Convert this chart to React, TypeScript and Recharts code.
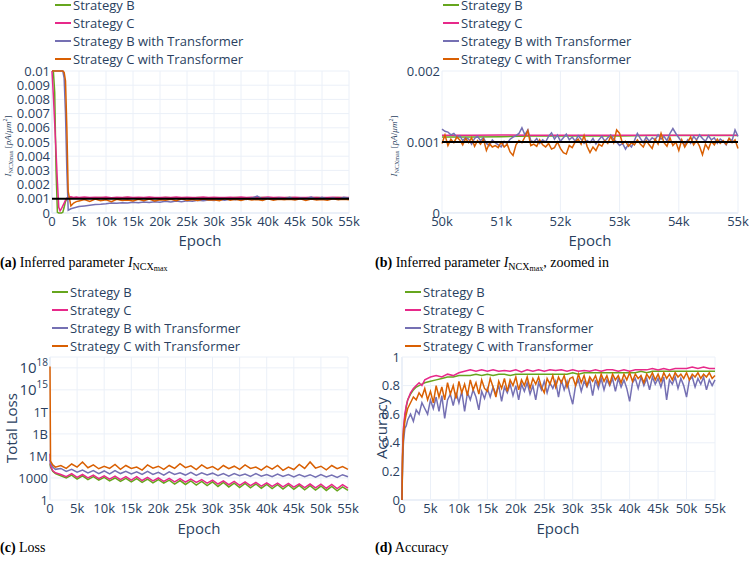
import React from 'react'
import { LineChart, Line, XAxis, YAxis, CartesianGrid, ReferenceLine } from 'recharts'

const SERIES = ['Strategy B', 'Strategy C', 'Strategy B with Transformer', 'Strategy C with Transformer']
const KEYS = ['b', 'c', 'bt', 'ct']
const COLORS = ['#66a61e', '#e7298a', '#7570b3', '#d95f02'] // Dark2

const FONT = '"Open Sans", "Liberation Sans", Arial, sans-serif'
const SERIF = '"Liberation Serif", "DejaVu Serif", serif'
const INK = '#2a3f5f'
const GRID = '#ebf0f8'

// epochs are in thousands (k)
const X_TICKS = [0, 5, 10, 15, 20, 25, 30, 35, 40, 45, 50, 55]
const X_TICKS_ZOOM = [50, 51, 52, 53, 54, 55]
const TRUE_INCX = 0.001

// (a) inferred I_NCXmax, values in 1e-3 pA/um^2
const EPOCH_A = [
  0, 0.25, 0.5, 0.75, 1, 1.25, 1.5, 1.75, 2, 2.25, 2.5, 2.75, 3, 3.5, 4, 4.5, 5,
  6, 7, 8, 9, 10, 11, 12, 13, 14, 15, 16, 17, 18, 19, 20, 21, 22, 23, 24, 25,
  26, 27, 28, 29, 30, 31, 32, 33, 34, 35, 36, 37, 38, 39, 40, 41, 42, 43, 44, 45,
  46, 47, 48, 49, 50, 51, 52, 53, 54, 55,
]
const INCX_B = [
  10, 10, 8.5, 3.0, 0.05, 0, 0, 0, 0.05, 0.4, 0.8, 1.0, 1.06, 1.08, 1.05, 1.07, 1.06,
  1.08, 1.05, 1.07, 1.09, 1.06, 1.08, 1.05, 1.07, 1.09, 1.06,
  1.08, 1.07, 1.05, 1.08, 1.06, 1.09, 1.07, 1.05, 1.08, 1.07,
  1.06, 1.09, 1.07, 1.08, 1.05, 1.07, 1.08, 1.06, 1.09, 1.07,
  1.08, 1.06, 1.07, 1.09, 1.08, 1.06, 1.08, 1.07, 1.09, 1.08,
  1.07, 1.08, 1.06, 1.09, 1.08, 1.07, 1.08, 1.09, 1.08, 1.08,
]
const INCX_C = [
  10, 8.3, 6.3, 4.3, 2.2, 0.4, 0.15, 0.3, 0.5, 0.7, 0.9, 1.05, 1.12, 1.15, 1.1, 1.12, 1.1,
  1.12, 1.09, 1.11, 1.1, 1.13, 1.08, 1.11, 1.1, 1.12, 1.09,
  1.11, 1.1, 1.12, 1.09, 1.1, 1.11, 1.09, 1.12, 1.1, 1.11,
  1.09, 1.1, 1.12, 1.1, 1.11, 1.09, 1.1, 1.11, 1.1, 1.12,
  1.09, 1.11, 1.1, 1.1, 1.12, 1.09, 1.11, 1.1, 1.1, 1.11,
  1.09, 1.1, 1.11, 1.1, 1.09, 1.1, 1.11, 1.1, 1.09, 1.1,
]
const INCX_BT = [
  10, 10, 10, 10, 10, 10, 10, 10, 10, 9.5, 7.0, 3.0, 0.2, 0.3, 0.35, 0.4, 0.45,
  0.5, 0.55, 0.6, 0.62, 0.65, 0.7, 0.68, 0.72, 0.7, 0.75,
  0.72, 0.78, 0.74, 0.8, 0.76, 0.82, 0.78, 0.85, 0.8, 0.86,
  0.83, 0.9, 0.86, 0.92, 0.88, 0.95, 0.9, 0.98, 0.93, 1.0,
  0.95, 1.05, 1.2, 0.98, 1.08, 0.96, 1.05, 0.98, 1.1, 0.95,
  1.05, 1.0, 1.12, 0.96, 1.1, 0.98, 1.08, 0.95, 1.1, 1.05,
]
const INCX_CT = [
  10, 10, 10, 10, 10, 10, 10, 10, 10, 9.9, 9.3, 6.0, 1.5, 0.5, 0.7, 0.8, 0.85,
  0.95, 0.82, 0.98, 0.86, 0.93, 0.8, 0.97, 0.88, 0.92, 0.84,
  0.96, 0.87, 0.99, 0.85, 0.94, 0.9, 0.97, 0.86, 1.0, 0.89,
  0.95, 0.88, 0.98, 0.91, 0.94, 0.87, 1.02, 0.9, 0.96, 0.88,
  0.99, 0.92, 0.95, 0.89, 1.01, 0.9, 0.97, 0.93, 0.96, 0.91,
  1.0, 0.89, 0.98, 0.92, 0.95, 0.9, 1.01, 0.93, 0.97, 0.94,
]
const INCX_Y_TICKS = [0, 0.001, 0.002, 0.003, 0.004, 0.005, 0.006, 0.007, 0.008, 0.009, 0.01]

// (b) zoomed in, values in 1e-3 pA/um^2
const EPOCH_B_COARSE = [50, 50.5, 51, 51.5, 52, 52.5, 53, 53.5, 54, 54.5, 55]
const ZOOM_B = [1.07, 1.07, 1.075, 1.085, 1.085, 1.085, 1.085, 1.09, 1.09, 1.09, 1.09]
const ZOOM_C = [1.095, 1.095, 1.1, 1.095, 1.095, 1.095, 1.095, 1.095, 1.095, 1.095, 1.095]
const EPOCH_B = [
  50, 50.05, 50.1, 50.15, 50.2, 50.25, 50.3, 50.35, 50.4, 50.45,
  50.5, 50.55, 50.6, 50.65, 50.7, 50.75, 50.8, 50.85, 50.9, 50.95,
  51, 51.05, 51.1, 51.15, 51.2, 51.25, 51.3, 51.35, 51.4, 51.45,
  51.5, 51.55, 51.6, 51.65, 51.7, 51.75, 51.8, 51.85, 51.9, 51.95,
  52, 52.05, 52.1, 52.15, 52.2, 52.25, 52.3, 52.35, 52.4, 52.45,
  52.5, 52.55, 52.6, 52.65, 52.7, 52.75, 52.8, 52.85, 52.9, 52.95,
  53, 53.05, 53.1, 53.15, 53.2, 53.25, 53.3, 53.35, 53.4, 53.45,
  53.5, 53.55, 53.6, 53.65, 53.7, 53.75, 53.8, 53.85, 53.9, 53.95,
  54, 54.05, 54.1, 54.15, 54.2, 54.25, 54.3, 54.35, 54.4, 54.45,
  54.5, 54.55, 54.6, 54.65, 54.7, 54.75, 54.8, 54.85, 54.9, 54.95,
  55,
]
const ZOOM_BT = [
  1.18, 1.15, 1.14, 1.1, 1.12, 1.07, 1.09, 1.02, 1.06, 1.04,
  0.97, 1.05, 1.08, 1.02, 1.06, 0.98, 0.95, 1.03, 0.99, 0.96,
  0.93, 1.01, 0.98, 1.04, 1.07, 1.09, 1.12, 1.2, 1.1, 1.17,
  1.02, 1.0, 1.05, 0.98, 1.03, 1.0, 1.08, 1.13, 1.04, 1.1,
  1.01, 1.06, 1.11, 1.03, 1.07, 1.01, 1.09, 1.04, 0.98, 1.02,
  0.99, 1.05, 0.97, 1.03, 1.08, 1.01, 1.06, 1.1, 1.04, 1.0,
  0.95, 0.98, 0.9, 0.97, 0.93, 1.02, 1.12, 1.05, 0.99, 1.07,
  1.01, 1.06, 1.03, 1.1, 1.04, 1.08, 1.02, 1.12, 1.19, 1.12,
  1.06, 1.0, 0.96, 1.03, 0.98, 1.08, 1.03, 1.1, 1.05, 1.01,
  1.09, 1.03, 1.06, 0.98, 1.04, 1.01, 0.96, 1.05, 1.02, 1.17,
  1.08,
]
const ZOOM_CT = [
  0.98, 1.1, 0.95, 1.04, 0.99, 1.07, 1.03, 0.96, 1.05, 0.99,
  1.06, 0.94, 1.02, 0.97, 1.04, 0.88, 0.98, 0.93, 0.95, 0.92,
  1.0, 0.93, 0.97, 0.86, 0.81, 0.96, 1.02, 0.99, 1.07, 1.16,
  0.95, 0.97, 0.94, 1.03, 0.96, 0.93, 0.98, 0.9, 0.92, 1.0,
  0.91, 0.85, 0.83, 0.95, 0.92, 1.0, 1.04, 0.97, 1.09, 0.94,
  0.85, 0.93, 0.88, 0.97, 0.94, 1.02, 0.98, 1.08, 0.99, 1.17,
  1.12, 0.98, 1.01, 0.94, 0.99, 0.96, 1.03, 0.97, 0.93, 1.02,
  0.96, 0.91, 1.04, 0.97, 1.12, 0.99, 0.94, 1.06, 0.95, 1.0,
  0.88, 1.03, 0.93, 1.0, 1.07, 0.96, 1.02, 0.94, 0.82, 0.97,
  0.9, 1.01, 0.96, 1.04, 0.98, 1.02, 0.97, 1.05, 0.99, 1.03,
  0.91,
]
const ZOOM_Y_TICKS = [0, 0.001, 0.002]

// (c) total loss
const EPOCH_C = [
  0, 0.1, 0.5, 1, 2, 3, 4, 5, 6, 7, 8, 9, 10, 11, 12, 13, 14, 15, 16, 17, 18, 19, 20,
  21, 22, 23, 24, 25, 26, 27, 28, 29, 30, 31, 32, 33, 34, 35, 36, 37, 38, 39, 40,
  41, 42, 43, 44, 45, 46, 47, 48, 49, 50, 51, 52, 53, 54, 55,
]
const LOSS_B = [
  1e5, 3e4, 8e3, 4e3,
  2e3, 1e3, 2.5e3, 700, 2e3, 600, 1.5e3, 500, 1.2e3, 400,
  1e3, 350, 900, 300, 800, 250, 700, 220, 600, 200,
  500, 150, 450, 130, 400, 110, 350, 90, 300, 70,
  250, 60, 200, 50, 180, 45, 150, 40, 130, 35,
  120, 30, 110, 28, 100, 25, 90, 22, 80, 20,
  70, 18, 60, 20,
]
const LOSS_C = [
  2e6, 5e4, 1e4, 5e3,
  3e3, 1.5e3, 4e3, 1.2e3, 3e3, 1e3, 2.5e3, 800, 2e3, 700,
  1.8e3, 600, 1.5e3, 500, 1.5e3, 450, 1.2e3, 400, 1e3, 350,
  900, 300, 800, 280, 700, 250, 600, 200, 500, 150,
  400, 120, 350, 100, 300, 90, 250, 80, 220, 70,
  200, 60, 180, 55, 160, 50, 150, 45, 140, 40,
  130, 35, 120, 40,
]
const LOSS_BT = [
  3e5, 1e5, 3e4, 1.5e4,
  2e4, 8e3, 1.5e4, 6e3, 1.2e4, 5e3, 1e4, 4e3, 9e3, 3.5e3,
  1e4, 4e3, 8e3, 3.5e3, 7e3, 3e3, 8e3, 3e3, 6e3, 2.5e3,
  7e3, 3e3, 5e3, 2.5e3, 6e3, 2.2e3, 5e3, 2.5e3, 4.5e3, 2e3,
  4e3, 1.8e3, 4e3, 2e3, 3.5e3, 1.6e3, 4e3, 1.8e3, 3e3, 1.5e3,
  3.5e3, 1.6e3, 3e3, 1.4e3, 3e3, 1.5e3, 2.8e3, 1.3e3, 3e3, 1.4e3,
  2.5e3, 1.2e3, 2.8e3, 1.5e3,
]
const LOSS_CT = [
  1.5e18, 2e5, 6e4, 3e4,
  5e4, 2e4, 8e4, 3e4, 1.5e5, 2.5e4, 6e4, 1.8e4, 4e4, 2e4,
  7e4, 1.5e4, 5e4, 2e4, 3e4, 1.2e4, 6e4, 2.2e4, 4e4, 1.5e4,
  5e4, 2e4, 9e4, 2.5e4, 4.5e4, 1.4e4, 6e4, 2e4, 3.5e4, 1.3e4,
  5e4, 1.8e4, 4e4, 1.5e4, 6e4, 2e4, 3e4, 1.2e4, 4e4, 1.6e4,
  5e4, 1.1e4, 3e4, 1.4e4, 7e4, 2e4, 1.5e5, 2.2e4, 4e4, 1.3e4,
  5e4, 1.8e4, 3.5e4, 1.5e4,
]
const LOSS_TICKS = [1, 1e3, 1e6, 1e9, 1e12, 1e15, 1e18]
const LOSS_TICK_LABELS = ['1', '1000', '1M', '1B', '1T', '10^15', '10^18']
const LOSS_DOMAIN = [1, 3e19]

// (d) accuracy
const EPOCH_D = [
  0, 0.1, 0.25, 0.5, 0.75, 1, 1.5, 2, 2.5, 3, 3.5, 4,
  5, 6, 7, 8, 9, 10, 11, 12, 13, 14, 15, 16, 17, 18, 19, 20, 21, 22, 23, 24, 25,
  26, 27, 28, 29, 30, 31, 32, 33, 34, 35, 36, 37, 38, 39, 40, 41, 42, 43, 44, 45,
  46, 47, 48, 49, 50, 51, 52, 53, 54, 55,
]
const ACC_B = [
  0, 0.3, 0.48, 0.58, 0.65, 0.7, 0.74, 0.77, 0.79, 0.8, 0.81, 0.82,
  0.83, 0.84, 0.85, 0.86, 0.86, 0.87, 0.87, 0.87, 0.88, 0.87,
  0.88, 0.87, 0.88, 0.88, 0.87, 0.88, 0.88, 0.88, 0.88, 0.88,
  0.88, 0.88, 0.88, 0.88, 0.88, 0.89, 0.88, 0.89, 0.89, 0.89,
  0.89, 0.89, 0.89, 0.89, 0.89, 0.89, 0.89, 0.9, 0.89, 0.9,
  0.9, 0.9, 0.9, 0.9, 0.9, 0.9, 0.9, 0.9, 0.9, 0.9, 0.9,
]
const ACC_C = [
  0, 0.35, 0.5, 0.6, 0.66, 0.7, 0.75, 0.78, 0.8, 0.82, 0.8, 0.84,
  0.86, 0.87, 0.86, 0.88, 0.87, 0.89, 0.9, 0.91, 0.9, 0.91,
  0.9, 0.91, 0.9, 0.905, 0.9, 0.91, 0.895, 0.91, 0.9, 0.91,
  0.9, 0.91, 0.905, 0.91, 0.9, 0.91, 0.9, 0.905, 0.9, 0.91,
  0.9, 0.91, 0.91, 0.9, 0.91, 0.9, 0.91, 0.91, 0.91, 0.92,
  0.91, 0.92, 0.91, 0.92, 0.92, 0.92, 0.93, 0.92, 0.93, 0.92, 0.92,
]
// transformer runs are logged more densely
const EPOCH_D_FINE = [
  0, 0.1, 0.25, 0.5, 0.75, 1, 1.5, 2, 2.5, 3, 3.5, 4,
  4.5, 5, 5.5, 6, 6.5, 7, 7.5, 8, 8.5, 9, 9.5,
  10, 10.5, 11, 11.5, 12, 12.5, 13, 13.5, 14, 14.5,
  15, 15.5, 16, 16.5, 17, 17.5, 18, 18.5, 19, 19.5,
  20, 20.5, 21, 21.5, 22, 22.5, 23, 23.5, 24, 24.5,
  25, 25.5, 26, 26.5, 27, 27.5, 28, 28.5, 29, 29.5,
  30, 30.5, 31, 31.5, 32, 32.5, 33, 33.5, 34, 34.5,
  35, 35.5, 36, 36.5, 37, 37.5, 38, 38.5, 39, 39.5,
  40, 40.5, 41, 41.5, 42, 42.5, 43, 43.5, 44, 44.5,
  45, 45.5, 46, 46.5, 47, 47.5, 48, 48.5, 49, 49.5,
  50, 50.5, 51, 51.5, 52, 52.5, 53, 53.5, 54, 54.5,
  55,
]
const ACC_BT = [
  0, 0.25, 0.4, 0.5, 0.52, 0.56, 0.6, 0.55, 0.63, 0.6, 0.68, 0.64,
  0.6, 0.7, 0.64, 0.72, 0.62, 0.73, 0.57, 0.7, 0.74, 0.66, 0.75,
  0.68, 0.76, 0.62, 0.75, 0.7, 0.77, 0.72, 0.63, 0.76, 0.71,
  0.78, 0.72, 0.79, 0.74, 0.8, 0.69, 0.79, 0.75, 0.81, 0.73,
  0.8, 0.7, 0.81, 0.76, 0.82, 0.74, 0.8, 0.7, 0.82, 0.77,
  0.83, 0.75, 0.82, 0.78, 0.83, 0.72, 0.84, 0.77, 0.83, 0.74,
  0.67, 0.8, 0.84, 0.76, 0.83, 0.79, 0.84, 0.73, 0.84, 0.78,
  0.85, 0.77, 0.84, 0.8, 0.85, 0.76, 0.85, 0.79, 0.84, 0.78,
  0.69, 0.82, 0.85, 0.78, 0.86, 0.8, 0.85, 0.77, 0.86, 0.81,
  0.85, 0.79, 0.86, 0.7, 0.84, 0.81, 0.86, 0.78, 0.85, 0.8,
  0.72, 0.84, 0.86, 0.79, 0.85, 0.81, 0.86, 0.77, 0.84, 0.8,
  0.84,
]
const ACC_CT = [
  0, 0.3, 0.45, 0.55, 0.6, 0.64, 0.68, 0.72, 0.7, 0.75, 0.72, 0.78,
  0.7, 0.76, 0.68, 0.8, 0.72, 0.79, 0.7, 0.82, 0.74, 0.8, 0.71,
  0.83, 0.75, 0.81, 0.73, 0.84, 0.77, 0.82, 0.74, 0.84, 0.78,
  0.76, 0.85, 0.79, 0.72, 0.83, 0.78, 0.85, 0.76, 0.84, 0.8,
  0.86, 0.77, 0.84, 0.8, 0.86, 0.78, 0.85, 0.81, 0.86, 0.79,
  0.75, 0.85, 0.81, 0.87, 0.79, 0.86, 0.82, 0.87, 0.79, 0.85,
  0.86, 0.8, 0.88, 0.82, 0.87, 0.8, 0.86, 0.83, 0.87, 0.81,
  0.88, 0.83, 0.87, 0.81, 0.88, 0.84, 0.87, 0.82, 0.88, 0.84,
  0.89, 0.83, 0.88, 0.85, 0.87, 0.82, 0.88, 0.85, 0.89, 0.84,
  0.88, 0.83, 0.89, 0.85, 0.88, 0.84, 0.89, 0.86, 0.88, 0.85,
  0.89, 0.84, 0.88, 0.86, 0.89, 0.85, 0.88, 0.86, 0.89, 0.85,
  0.87,
]
const ACC_Y_TICKS = [0, 0.2, 0.4, 0.6, 0.8, 1]

const milli = (v: number) => v * 1e-3

const tableA = EPOCH_A.map((epoch, i) => ({
  epoch, b: milli(INCX_B[i]), c: milli(INCX_C[i]), bt: milli(INCX_BT[i]), ct: milli(INCX_CT[i]),
}))
const truthA = [{ epoch: X_TICKS[0], v: TRUE_INCX }, { epoch: X_TICKS[X_TICKS.length - 1], v: TRUE_INCX }]
const zoomB = EPOCH_B_COARSE.map((epoch, i) => ({ epoch, v: milli(ZOOM_B[i]) }))
const zoomC = EPOCH_B_COARSE.map((epoch, i) => ({ epoch, v: milli(ZOOM_C[i]) }))
const zoomBT = EPOCH_B.map((epoch, i) => ({ epoch, v: milli(ZOOM_BT[i]) }))
const zoomCT = EPOCH_B.map((epoch, i) => ({ epoch, v: milli(ZOOM_CT[i]) }))
const truthB = [{ epoch: X_TICKS_ZOOM[0], v: TRUE_INCX }, { epoch: X_TICKS_ZOOM[X_TICKS_ZOOM.length - 1], v: TRUE_INCX }]
const tableC = EPOCH_C.map((epoch, i) => ({ epoch, b: LOSS_B[i], c: LOSS_C[i], bt: LOSS_BT[i], ct: LOSS_CT[i] }))
const tableD = EPOCH_D.map((epoch, i) => ({ epoch, b: ACC_B[i], c: ACC_C[i] }))
const accBT = EPOCH_D_FINE.map((epoch, i) => ({ epoch, v: ACC_BT[i] }))
const accCT = EPOCH_D_FINE.map((epoch, i) => ({ epoch, v: ACC_CT[i] }))

const tickStyle = { fill: INK, fontSize: 13, fontFamily: FONT }
const kFormat = (v: number) => (v === 0 ? '0' : `${v}k`)

function LossTick(props: any) {
  const { x, y, payload } = props
  const label = LOSS_TICK_LABELS[LOSS_TICKS.indexOf(payload.value)] ?? ''
  const [base, exp] = label.split('^')
  return (
    <text x={x} y={y} dy={5} textAnchor="end" fill={INK} fontFamily={FONT} fontSize={exp ? 15 : 13}>
      {base}
      {exp && <tspan dy={-7} fontSize={10}>{exp}</tspan>}
    </text>
  )
}

function SeriesLegend({ left, top }: { left: number; top: number }) {
  return (
    <div style={{ position: 'absolute', left, top, fontFamily: FONT, fontSize: 13, color: INK, lineHeight: '18px' }}>
      {SERIES.map((name, i) => (
        <div key={name} style={{ display: 'flex', alignItems: 'center', height: 18, whiteSpace: 'nowrap' }}>
          <span style={{ display: 'inline-block', width: 16, height: 2, background: COLORS[i], marginRight: 2 }} />
          <span>{name}</span>
        </div>
      ))}
    </div>
  )
}

function Title({ x, y, rotate, children, style }: any) {
  return (
    <div
      style={{
        position: 'absolute', left: x, top: y, whiteSpace: 'nowrap', lineHeight: 1,
        transform: `translate(-50%, -50%)${rotate ? ' rotate(-90deg)' : ''}`,
        fontFamily: FONT, fontSize: 15, color: INK, ...style,
      }}
    >
      {children}
    </div>
  )
}

const IncxLabel = () => (
  <>
    <i>I</i><sub style={{ fontSize: 6 }}>NCXmax</sub> [<i>pA</i>/<i>μm</i><sup style={{ fontSize: 6 }}>2</sup>]
  </>
)

function Caption({ x, y, tag, children }: any) {
  return (
    <div style={{ position: 'absolute', left: x, top: y, fontFamily: SERIF, fontSize: 14, color: '#000', whiteSpace: 'nowrap', lineHeight: '16px' }}>
      <b>{tag}</b> {children}
    </div>
  )
}

const mathSub = (
  <>
    <i>I</i>
    <span style={{ position: 'relative', top: 3, fontSize: 10 }}>
      NCX<span style={{ position: 'relative', top: 1, fontSize: 8 }}>max</span>
    </span>
  </>
)

const lineProps = { type: 'linear' as const, dot: false, strokeWidth: 1.5, isAnimationActive: false }

function seriesLines() {
  return KEYS.map((k, i) => <Line key={k} dataKey={k} name={SERIES[i]} stroke={COLORS[i]} {...lineProps} />)
}

export default function App() {
  return (
    <div style={{ position: 'absolute', left: 0, top: 0, width: 749, height: 562, background: '#fff', overflow: 'hidden' }}>
      {/* (a) */}
      <div style={{ position: 'absolute', left: 0, top: 0 }}>
        <LineChart width={370} height={262} data={tableA} margin={{ top: 71, right: 21, bottom: 19, left: 0 }}>
          <CartesianGrid stroke={GRID} />
          <XAxis dataKey="epoch" type="number" domain={[0, 55]} ticks={X_TICKS} tickFormatter={kFormat}
            axisLine={false} tickLine={false} tickSize={0} tickMargin={4} height={30} tick={tickStyle} interval={0} />
          <YAxis type="number" domain={[0, 0.01]} ticks={INCX_Y_TICKS} tickFormatter={(v: number) => String(v)}
            axisLine={false} tickLine={false} tickSize={0} tickMargin={2} width={52} tick={tickStyle} interval={0} />
          <ReferenceLine x={0} stroke={GRID} strokeWidth={2} />
          <ReferenceLine y={0} stroke={GRID} strokeWidth={2} />
          {seriesLines()}
          <Line data={truthA} dataKey="v" stroke="#000" {...lineProps} strokeWidth={2} />
        </LineChart>
      </div>
      <SeriesLegend left={55} top={-4} />
      <Title x={200} y={240}>Epoch</Title>
      <Title x={8} y={146} rotate style={{ fontFamily: SERIF, fontSize: 9 }}><IncxLabel /></Title>
      <Caption x={0} y={255} tag="(a)">Inferred parameter {mathSub}</Caption>

      {/* (b) */}
      <div style={{ position: 'absolute', left: 375, top: 0 }}>
        <LineChart width={374} height={262} margin={{ top: 71, right: 11, bottom: 19, left: 0 }}>
          <CartesianGrid stroke={GRID} />
          <XAxis dataKey="epoch" type="number" domain={[50, 55]} ticks={X_TICKS_ZOOM} tickFormatter={kFormat}
            axisLine={false} tickLine={false} tickSize={0} tickMargin={4} height={30} tick={tickStyle} interval={0} allowDuplicatedCategory={false} />
          <YAxis type="number" domain={[0, 0.002]} ticks={ZOOM_Y_TICKS} tickFormatter={(v: number) => String(v)}
            axisLine={false} tickLine={false} tickSize={0} tickMargin={2} width={67} tick={tickStyle} interval={0} />
          <ReferenceLine y={0} stroke={GRID} strokeWidth={2} />
          <Line data={zoomB} dataKey="v" name={SERIES[0]} stroke={COLORS[0]} {...lineProps} />
          <Line data={zoomC} dataKey="v" name={SERIES[1]} stroke={COLORS[1]} {...lineProps} />
          <Line data={zoomBT} dataKey="v" name={SERIES[2]} stroke={COLORS[2]} {...lineProps} />
          <Line data={zoomCT} dataKey="v" name={SERIES[3]} stroke={COLORS[3]} {...lineProps} />
          <Line data={truthB} dataKey="v" stroke="#000" {...lineProps} strokeWidth={2} />
        </LineChart>
      </div>
      <SeriesLegend left={443} top={-4} />
      <Title x={590} y={240}>Epoch</Title>
      <Title x={394} y={146} rotate style={{ fontFamily: SERIF, fontSize: 9 }}><IncxLabel /></Title>
      <Caption x={375} y={255} tag="(b)">Inferred parameter {mathSub}, zoomed in</Caption>

      {/* (c) */}
      <div style={{ position: 'absolute', left: 0, top: 270 }}>
        <LineChart width={370} height={262} data={tableC} margin={{ top: 87, right: 22, bottom: 4, left: 0 }}>
          <CartesianGrid stroke={GRID} />
          <XAxis dataKey="epoch" type="number" domain={[0, 55]} ticks={X_TICKS} tickFormatter={kFormat}
            axisLine={false} tickLine={false} tickSize={0} tickMargin={4} height={28} tick={tickStyle} interval={0} />
          <YAxis type="number" scale="log" domain={LOSS_DOMAIN} ticks={LOSS_TICKS} allowDataOverflow
            axisLine={false} tickLine={false} tickSize={0} tickMargin={2} width={50} tick={<LossTick />} interval={0} />
          <ReferenceLine x={0} stroke={GRID} strokeWidth={2} />
          {seriesLines()}
        </LineChart>
      </div>
      <SeriesLegend left={52} top={283} />
      <Title x={199} y={528}>Epoch</Title>
      <Title x={11} y={428} rotate>Total Loss</Title>
      <Caption x={0} y={540} tag="(c)">Loss</Caption>

      {/* (d) */}
      <div style={{ position: 'absolute', left: 375, top: 270 }}>
        <LineChart width={374} height={262} data={tableD} margin={{ top: 87, right: 34, bottom: 4, left: 0 }}>
          <CartesianGrid stroke={GRID} />
          <XAxis dataKey="epoch" type="number" domain={[0, 55]} ticks={X_TICKS} tickFormatter={kFormat}
            axisLine={false} tickLine={false} tickSize={0} tickMargin={4} height={28} tick={tickStyle} interval={0} />
          <YAxis type="number" domain={[0, 1]} ticks={ACC_Y_TICKS} tickFormatter={(v: number) => String(v)}
            axisLine={false} tickLine={false} tickSize={0} tickMargin={2} width={27} tick={tickStyle} interval={0} />
          <ReferenceLine x={0} stroke={GRID} strokeWidth={2} />
          <ReferenceLine y={0} stroke={GRID} strokeWidth={2} />
          <Line dataKey="b" name={SERIES[0]} stroke={COLORS[0]} {...lineProps} />
          <Line dataKey="c" name={SERIES[1]} stroke={COLORS[1]} {...lineProps} />
          <Line data={accBT} dataKey="v" name={SERIES[2]} stroke={COLORS[2]} {...lineProps} />
          <Line data={accCT} dataKey="v" name={SERIES[3]} stroke={COLORS[3]} {...lineProps} />
        </LineChart>
      </div>
      <SeriesLegend left={405} top={283} />
      <Title x={558} y={528}>Epoch</Title>
      <Title x={381} y={428} rotate>Accuracy</Title>
      <Caption x={375} y={540} tag="(d)">Accuracy</Caption>
    </div>
  )
}
